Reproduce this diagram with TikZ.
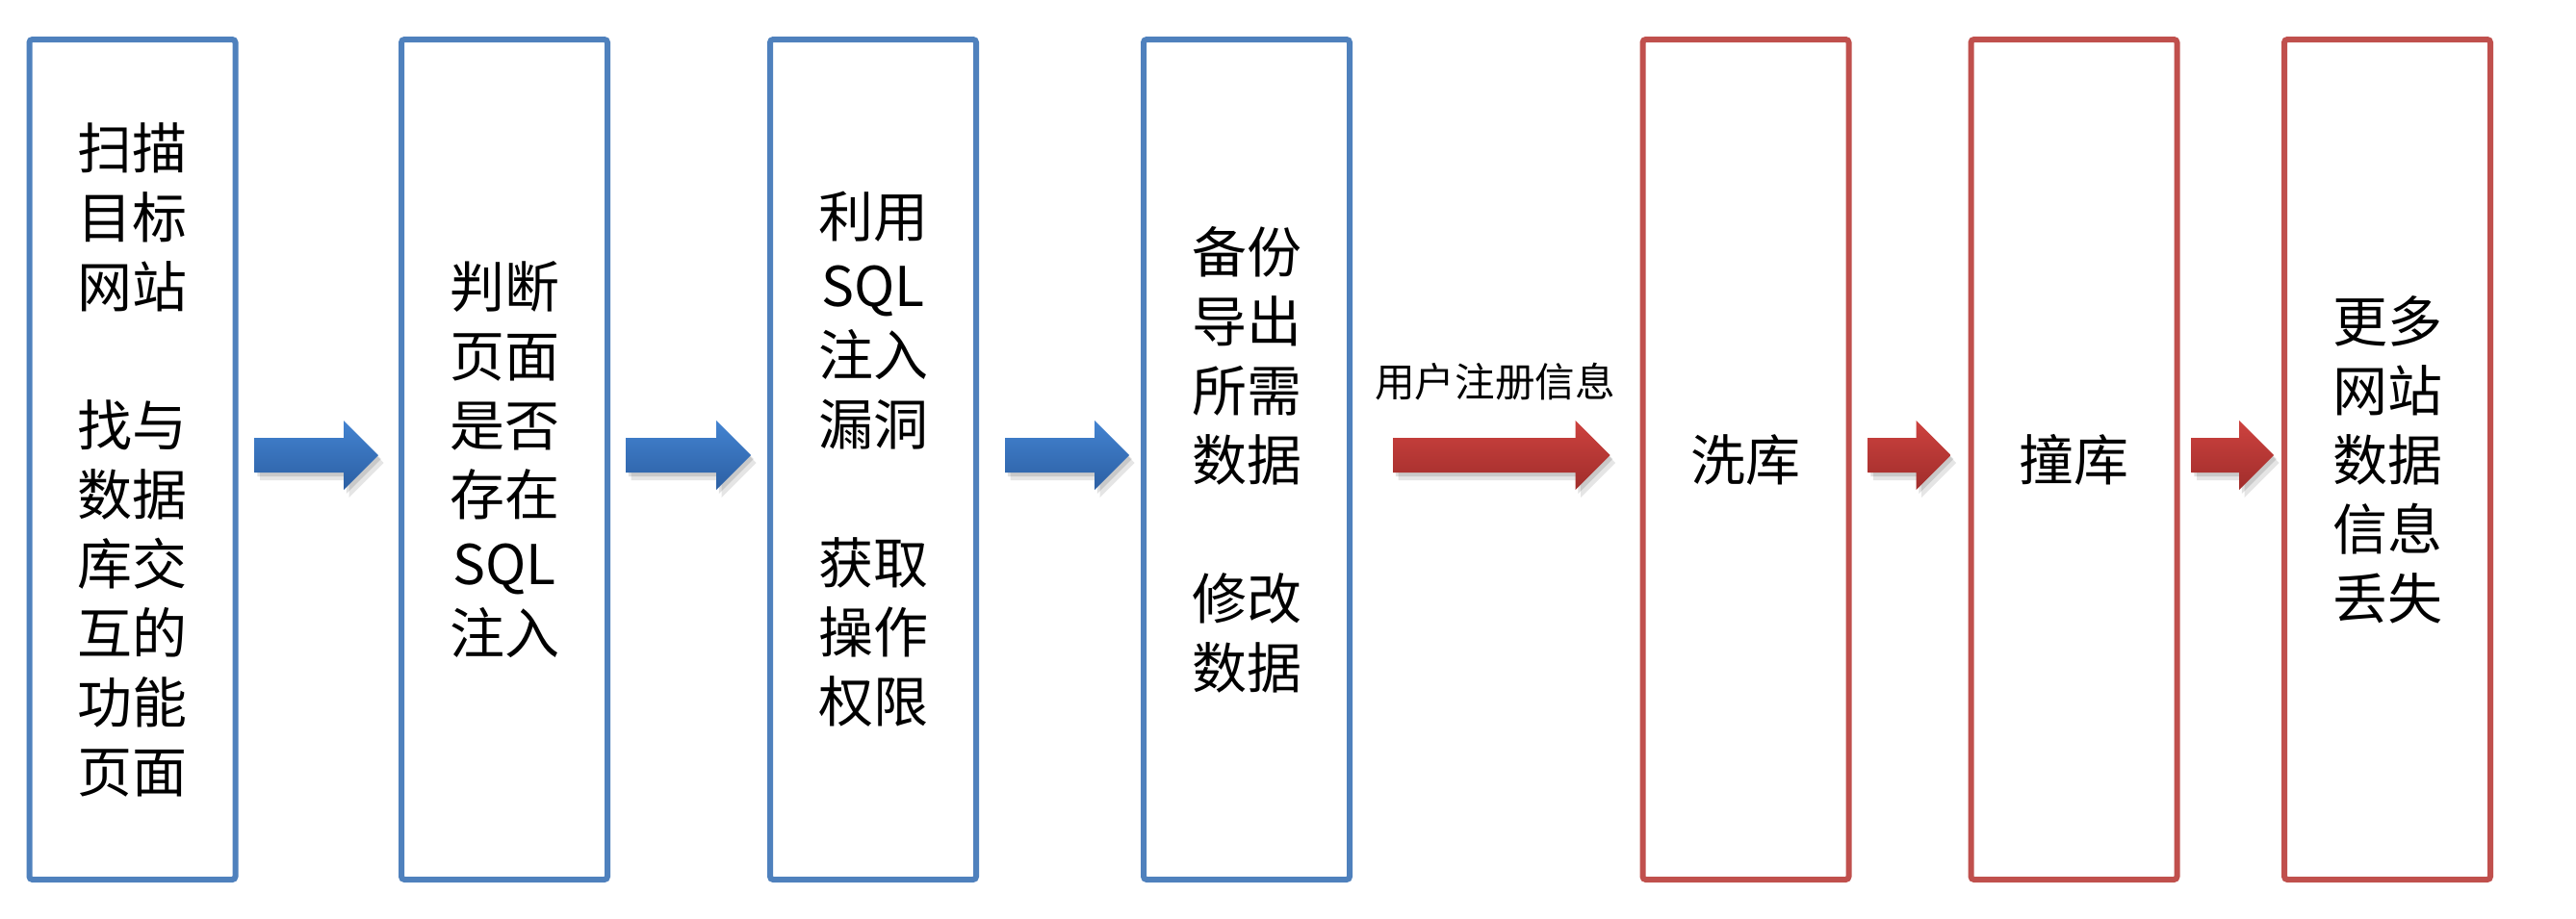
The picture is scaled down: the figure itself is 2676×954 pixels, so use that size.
\documentclass[tikz,border=0pt]{standalone}
\usepackage{fontspec}
\setmainfont{Noto Sans CJK SC}
\usetikzlibrary{calc}
\definecolor{bboxc}{HTML}{4F81BD}
\definecolor{rboxc}{HTML}{C0504D}
\definecolor{barrT}{HTML}{4383D1}
\definecolor{barrB}{HTML}{2C5FA3}
\definecolor{rarrT}{HTML}{CD423F}
\definecolor{rarrB}{HTML}{A02D2B}
\tikzset{
  box/.style={draw, line width=1.5pt, rounded corners=0.8pt, minimum width=53.5pt,
    minimum height=218.25pt, inner sep=0pt, outer sep=0pt, align=center,
    font=\fontsize{14.25pt}{18pt}\selectfont},
  bluebox/.style={box, draw=bboxc},
  redbox/.style={box, draw=rboxc},
  lbl/.style={font=\fontsize{10.4pt}{12pt}\selectfont, inner sep=0pt}
}
\newcommand{\arrowpath}[2]{(\x1+#1,\y1-4.5pt+#2) -- (\x2-9pt+#1,\y1-4.5pt+#2) -- (\x2-9pt+#1,\y1-9pt+#2) -- (\x2+#1,\y1+#2) -- (\x2-9pt+#1,\y1+9pt+#2) -- (\x2-9pt+#1,\y1+4.5pt+#2) -- (\x1+#1,\y1+4.5pt+#2) -- cycle}
\newcommand{\blockarrow}[4]{%
  \path #1 coordinate (arS) #2 coordinate (arE);
  \fill[black, opacity=0.10] let \p1=(arS), \p2=(arE) in \arrowpath{1.4pt}{-2pt};
  \fill[black, opacity=0.12] let \p1=(arS), \p2=(arE) in \arrowpath{0.7pt}{-1pt};
  \shade[top color=#3, bottom color=#4] let \p1=(arS), \p2=(arE) in \arrowpath{0pt}{0pt};
}
\begin{document}
\begin{tikzpicture}[x=0.25pt, y=-0.25pt]
\useasboundingbox[fill=white] (0,0) rectangle (2676,954);
\node[bluebox] (b1) at (137.5,477.5) {扫描\\目标\\网站\\[18pt]找与\\数据\\库交\\互的\\功能\\页面};
\node[bluebox] (b2) at (524,477.5) {判断\\页面\\是否\\存在\\SQL\\注入};
\node[bluebox] (b3) at (907,477.5) {利用\\SQL\\注入\\漏洞\\[18pt]获取\\操作\\权限};
\node[bluebox] (b4) at (1295,477.5) {备份\\导出\\所需\\数据\\[18pt]修改\\数据};
\node[redbox] (b5) at (1813.5,477.5) {洗库};
\node[redbox] (b6) at (2154.5,477.5) {撞库};
\node[redbox] (b7) at (2480,477.5) {更多\\网站\\数据\\信息\\丢失};
\node[lbl] (reg) at (1553,397) {用户注册信息};
\blockarrow{($(b1.east)+(20,-4.5)$)}{($(b2.west)+(-24,-4.5)$)}{barrT}{barrB}
\blockarrow{($(b2.east)+(19,-4.5)$)}{($(b3.west)+(-20,-4.5)$)}{barrT}{barrB}
\blockarrow{($(b3.east)+(30,-4.5)$)}{($(b4.west)+(-15,-4.5)$)}{barrT}{barrB}
\blockarrow{($(b4.east)+(45,-4.5)$)}{($(b5.west)+(-34,-4.5)$)}{rarrT}{rarrB}
\blockarrow{($(b5.east)+(20,-4.5)$)}{($(b6.west)+(-21,-4.5)$)}{rarrT}{rarrB}
\blockarrow{($(b6.east)+(15,-4.5)$)}{($(b7.west)+(-11,-4.5)$)}{rarrT}{rarrB}
\end{tikzpicture}
\end{document}
